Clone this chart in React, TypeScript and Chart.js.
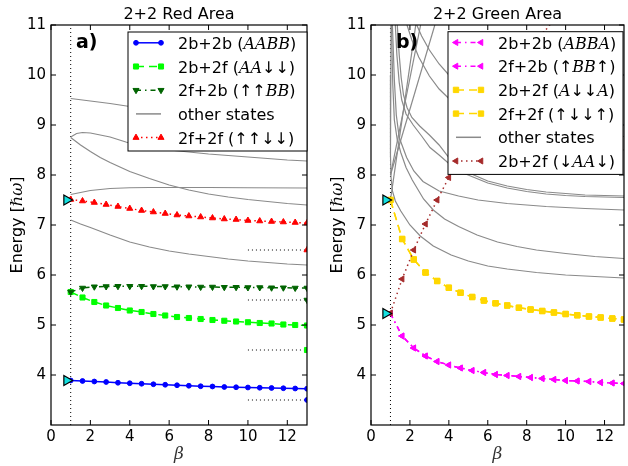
import React, { useEffect, useRef } from "react";
import { Chart, registerables } from "chart.js";

Chart.register(...registerables);

const SANS = "'DejaVu Sans', 'Liberation Sans', sans-serif";
const MATH = "'DejaVu Serif', 'Liberation Serif', serif";

// ---------------- axes ----------------
const betaRange = [0, 13];
const energyRange = [3, 11];
const xTickValues = [0, 2, 4, 6, 8, 10, 12];
const yTickValues = [4, 5, 6, 7, 8, 9, 10, 11];

// beta grid of the marked series
const betaGrid = [1.0, 1.6, 2.2, 2.8, 3.4, 4.0, 4.6, 5.2, 5.8, 6.4, 7.0, 7.6, 8.2, 8.8, 9.4, 10.0, 10.6, 11.2, 11.8, 12.4, 13.0];

// ---------------- panel a) 2+2 Red Area ----------------
const redAABB = [3.89, 3.88, 3.87, 3.86, 3.845, 3.835, 3.825, 3.815, 3.805, 3.795, 3.785, 3.775, 3.77, 3.76, 3.755, 3.75, 3.745, 3.74, 3.735, 3.73, 3.725];
const redAAdd = [5.66, 5.55, 5.46, 5.39, 5.34, 5.29, 5.26, 5.22, 5.19, 5.16, 5.14, 5.12, 5.1, 5.085, 5.07, 5.055, 5.04, 5.03, 5.01, 5.0, 4.99];
const redUUBB = [5.66, 5.74, 5.765, 5.77, 5.775, 5.775, 5.775, 5.77, 5.77, 5.765, 5.765, 5.76, 5.76, 5.755, 5.755, 5.75, 5.75, 5.745, 5.745, 5.74, 5.74];
const redUUdd = [7.51, 7.48, 7.45, 7.41, 7.37, 7.33, 7.29, 7.26, 7.23, 7.2, 7.18, 7.16, 7.14, 7.12, 7.11, 7.09, 7.08, 7.07, 7.06, 7.05, 7.04];

const redAsymptoteBeta = [10, 13];
const redAsymptoteE = [6.5, 5.5, 4.5, 3.5]; // uudd, uuBB, AAdd, AABB

const redCyanBeta = [0.8, 0.8];
const redCyanE = [7.5, 3.89];

const redOther1Beta = [1, 2, 3, 4, 5, 6, 7, 8, 9, 10, 11, 12, 13];
const redOther1E = [9.53, 9.48, 9.43, 9.37, 9.3, 9.21, 9.12, 9.03, 8.94, 8.85, 8.76, 8.68, 8.62];
const redOther2Beta = [1, 1.3, 1.6, 2, 3, 3.8, 4.8, 6, 7, 8, 9, 10, 11, 12, 13];
const redOther2E = [8.76, 8.83, 8.85, 8.84, 8.76, 8.66, 8.55, 8.5, 8.46, 8.42, 8.39, 8.36, 8.33, 8.3, 8.28];
const redOther3Beta = [1, 1.5, 2, 2.5, 3, 4, 5, 6, 8, 10, 13];
const redOther3E = [7.61, 7.65, 7.69, 7.71, 7.73, 7.745, 7.75, 7.75, 7.75, 7.745, 7.74];
const redOther4Beta = [1, 1.5, 2, 2.5, 3, 4, 5, 6, 7, 8, 9, 10, 11, 12, 13];
const redOther4E = [8.75, 8.6, 8.47, 8.35, 8.25, 8.07, 7.93, 7.8, 7.7, 7.62, 7.56, 7.51, 7.47, 7.43, 7.4];
const redOther5Beta = [1, 1.5, 2, 3, 4, 5, 6, 7, 8, 9, 10, 11, 12, 13];
const redOther5E = [7.1, 7.02, 6.95, 6.8, 6.66, 6.56, 6.48, 6.42, 6.37, 6.32, 6.28, 6.25, 6.22, 6.2];

// ---------------- panel b) 2+2 Green Area ----------------
const greenABBA = [5.23, 4.78, 4.54, 4.38, 4.27, 4.2, 4.14, 4.09, 4.05, 4.01, 3.99, 3.97, 3.95, 3.93, 3.91, 3.89, 3.88, 3.87, 3.85, 3.84, 3.83];
const greenUBBU = [5.23, 4.78, 4.54, 4.38, 4.27, 4.2, 4.14, 4.09, 4.05, 4.01, 3.99, 3.97, 3.95, 3.93, 3.91, 3.89, 3.88, 3.87, 3.85, 3.84, 3.83];
const greenAddA = [7.5, 6.72, 6.31, 6.05, 5.88, 5.745, 5.645, 5.56, 5.49, 5.435, 5.39, 5.345, 5.31, 5.28, 5.25, 5.22, 5.195, 5.17, 5.15, 5.13, 5.11];
const greenUddU = [7.5, 6.72, 6.31, 6.05, 5.88, 5.745, 5.645, 5.56, 5.49, 5.435, 5.39, 5.345, 5.31, 5.28, 5.25, 5.22, 5.195, 5.17, 5.15, 5.13, 5.11];
const greenDAADBeta = [1.0, 1.6, 2.2, 2.8, 3.4, 4.0, 4.6, 5.2, 5.8, 6.4, 7.0, 7.6, 8.2, 8.8, 9.4];
const greenDAAD = [5.24, 5.92, 6.5, 7.02, 7.5, 7.95, 8.37, 8.77, 9.15, 9.51, 9.85, 10.18, 10.5, 10.81, 11.11];

const greenCyanBeta = [0.76, 0.76];
const greenCyanE = [7.5, 5.23];

const greenOther1Beta = [2.35, 2.6, 3, 3.5, 4, 5, 6, 7, 8, 9, 10, 11, 12, 13];
const greenOther1E = [11, 10.78, 10.5, 10.22, 10.0, 9.68, 9.45, 9.27, 9.14, 9.04, 8.95, 8.88, 8.82, 8.77];
const greenOther2Beta = [1.85, 2.1, 2.45, 3, 3.5, 4, 5, 6, 7, 8, 9, 10, 11, 12, 13];
const greenOther2E = [11, 10.7, 10.36, 9.98, 9.72, 9.53, 9.24, 9.05, 8.91, 8.8, 8.71, 8.64, 8.59, 8.54, 8.5];
const greenOther3Beta = [1.35, 1.45, 1.55, 1.67, 1.85, 2.1, 2.5, 3, 3.5, 4, 4.8, 6, 7, 8, 9, 10, 11, 12, 13];
const greenOther3E = [11, 10.4, 9.95, 9.6, 9.35, 9.15, 8.98, 8.8, 8.6, 8.35, 8.08, 7.88, 7.78, 7.71, 7.66, 7.63, 7.6, 7.59, 7.58];
const greenOther4Beta = [1.25, 1.33, 1.45, 1.58, 1.8, 2.17, 2.6, 3.03, 3.5, 4, 4.8, 6, 7, 8, 9, 10, 11, 12, 13];
const greenOther4E = [11, 10.4, 9.85, 9.5, 9.22, 9.0, 8.78, 8.55, 8.4, 8.23, 8.03, 7.84, 7.74, 7.67, 7.62, 7.59, 7.57, 7.56, 7.55];
const greenOther5Beta = [1.1, 1.2, 1.3, 1.45, 1.83, 2.2, 2.67, 3.5, 4.5, 5.5, 7, 9, 11, 13];
const greenOther5E = [11, 9.9, 9.2, 8.75, 8.35, 8.08, 7.87, 7.68, 7.58, 7.5, 7.43, 7.37, 7.33, 7.3];
const greenOther6Beta = [1.05, 1.12, 1.2, 1.35, 1.53, 1.8, 2.12, 2.7, 3.2, 3.78, 4.5, 5.45, 6.5, 7.5, 8.5, 10, 11.5, 13];
const greenOther6E = [11, 9.8, 9.1, 8.7, 8.45, 8.15, 7.9, 7.52, 7.3, 7.12, 6.97, 6.8, 6.66, 6.57, 6.5, 6.43, 6.37, 6.33];
const greenOther7Beta = [1.03, 1.02, 1.0, 1.0, 1.03, 1.1, 1.25, 1.53, 2, 2.53, 3.2, 4.12, 5, 6, 7, 8.5, 10, 11.5, 13];
const greenOther7E = [11, 10, 9, 8.4, 7.95, 7.68, 7.48, 7.28, 7.0, 6.78, 6.58, 6.4, 6.28, 6.18, 6.12, 6.05, 6.0, 5.97, 5.94];
const greenRise1Beta = [1.0, 2.55];
const greenRise1E = [8.0, 11];
const greenRise2Beta = [1.0, 3.28];
const greenRise2E = [8.0, 11];
const greenRise3Beta = [1.0, 2.3];
const greenRise3E = [7.5, 11];

// ---------------- styles ----------------
type Style = { color: string; dash: number[]; point: string; rot: number; r: number };
const ST: Record<string, Style> = {
  blue: { color: "#0000ff", dash: [], point: "circle", rot: 0, r: 2.4 },
  green: { color: "#00ff00", dash: [8, 5], point: "rect", rot: 0, r: 3.6 },
  dkgreen: { color: "#006400", dash: [5, 4, 1.5, 4], point: "triangle", rot: 180, r: 3.5 },
  red: { color: "#ff0000", dash: [1.5, 3.5], point: "triangle", rot: 0, r: 3.5 },
  magenta: { color: "#ff00ff", dash: [5, 4, 1.5, 4], point: "triangle", rot: -90, r: 3.5 },
  gold: { color: "#ffd700", dash: [8, 5], point: "rect", rot: 0, r: 3.8 },
  brown: { color: "#a52a2a", dash: [1.5, 3.5], point: "triangle", rot: -90, r: 3.5 },
  gray: { color: "#8a8a8a", dash: [], point: "", rot: 0, r: 0 },
};

type Pt = { x: number; y: number };
const pts = (xs: number[], ys: number[]): Pt[] => ys.map((y, i) => ({ x: xs[i], y }));

function markedLine(data: Pt[], st: Style, order: number) {
  return {
    data, showLine: true, order, clip: 0,
    borderColor: st.color, backgroundColor: st.color, borderWidth: 1.5, borderDash: st.dash,
    pointStyle: st.point, pointRotation: st.rot, pointRadius: st.r, pointHoverRadius: st.r,
    pointBackgroundColor: st.color, pointBorderColor: st.color, pointBorderWidth: 1,
  };
}
function plainLine(data: Pt[], color: string, width: number, dash: number[], order: number) {
  return {
    data, showLine: true, order, clip: 0,
    borderColor: color, backgroundColor: color, borderWidth: width, borderDash: dash,
    pointRadius: 0, pointHoverRadius: 0,
  };
}
function markersOnly(data: Pt[], st: Style, order: number, fill = st.color, edge = st.color, edgeW = 1) {
  return {
    data, showLine: false, order, clip: 0,
    borderColor: edge, backgroundColor: fill,
    pointStyle: st.point, pointRotation: st.rot, pointRadius: st.r, pointHoverRadius: st.r,
    pointBackgroundColor: fill, pointBorderColor: edge, pointBorderWidth: edgeW,
  };
}

const CYAN: Style = { color: "#14e0e0", dash: [], point: "triangle", rot: 90, r: 5.8 };

// ---------------- drawing helpers ----------------
function drawMarker(ctx: CanvasRenderingContext2D, st: Style, x: number, y: number) {
  if (!st.point) return;
  ctx.save();
  ctx.translate(x, y);
  ctx.rotate((st.rot * Math.PI) / 180);
  ctx.beginPath();
  const r = st.r;
  if (st.point === "circle") ctx.arc(0, 0, r, 0, Math.PI * 2);
  else if (st.point === "rect") {
    const s = r * Math.SQRT1_2;
    ctx.rect(-s, -s, 2 * s, 2 * s);
  } else {
    ctx.moveTo(0, -r);
    ctx.lineTo(r * 0.866, r / 2);
    ctx.lineTo(-r * 0.866, r / 2);
    ctx.closePath();
  }
  ctx.fillStyle = st.color;
  ctx.fill();
  ctx.strokeStyle = st.color;
  ctx.lineWidth = 1;
  ctx.stroke();
  ctx.restore();
}

type Seg = [string, "n" | "i"];
type LegendItem = { segs: Seg[]; st: Style; width: number };
type Decor = {
  id: string;
  title: string;
  letter: string;
  legendLeft: number;
  legendTop: number;
  legendWidth: number;
  items: LegendItem[];
};

function drawSegs(ctx: CanvasRenderingContext2D, segs: Seg[], x: number, y: number, size = 16) {
  let cx = x;
  for (const [t, k] of segs) {
    ctx.font = k === "i" ? `italic ${size}px ${MATH}` : `${size}px ${SANS}`;
    ctx.fillText(t, cx, y);
    cx += ctx.measureText(t).width;
  }
  return cx - x;
}
function segsWidth(ctx: CanvasRenderingContext2D, segs: Seg[], size = 16) {
  let w = 0;
  for (const [t, k] of segs) {
    ctx.font = k === "i" ? `italic ${size}px ${MATH}` : `${size}px ${SANS}`;
    w += ctx.measureText(t).width;
  }
  return w;
}

function decorPlugin(d: Decor) {
  return {
    id: "decor" + d.id,
    afterDraw(chart: any) {
      const ctx: CanvasRenderingContext2D = chart.ctx;
      const ca = chart.chartArea;
      const xs = chart.scales.x;
      const ys = chart.scales.y;
      ctx.save();
      ctx.setLineDash([]);
      // spines
      ctx.strokeStyle = "#000";
      ctx.lineWidth = 1.2;
      ctx.strokeRect(ca.left, ca.top, ca.right - ca.left, ca.bottom - ca.top);
      // inward ticks
      ctx.lineWidth = 1;
      ctx.beginPath();
      for (const v of xTickValues) {
        const px = xs.getPixelForValue(v);
        ctx.moveTo(px, ca.bottom);
        ctx.lineTo(px, ca.bottom - 5);
        ctx.moveTo(px, ca.top);
        ctx.lineTo(px, ca.top + 5);
      }
      for (const v of yTickValues) {
        const py = ys.getPixelForValue(v);
        ctx.moveTo(ca.left, py);
        ctx.lineTo(ca.left + 5, py);
        ctx.moveTo(ca.right, py);
        ctx.lineTo(ca.right - 5, py);
      }
      ctx.stroke();

      const cx = (xs.getPixelForValue(betaRange[0]) + xs.getPixelForValue(betaRange[1])) / 2;
      const cy = (ca.top + ca.bottom) / 2;
      ctx.fillStyle = "#000";
      ctx.textAlign = "center";
      ctx.textBaseline = "alphabetic";
      // title
      ctx.font = `16px ${SANS}`;
      ctx.fillText(d.title, cx, 19);
      // x label
      ctx.font = `italic 17px ${MATH}`;
      ctx.fillStyle = "#333";
      ctx.fillText("β", cx, 459);
      ctx.fillStyle = "#000";
      // y label
      ctx.save();
      ctx.translate(ca.left - 29, cy);
      ctx.rotate(-Math.PI / 2);
      ctx.textAlign = "left";
      const ySegs: Seg[] = [["Energy [", "n"], ["ℏω", "i"], ["]", "n"]];
      const w = segsWidth(ctx, ySegs);
      drawSegs(ctx, ySegs, -w / 2, 0);
      ctx.restore();

      // legend
      ctx.textAlign = "left";
      const rowStep = 23.7;
      const lh = d.items.length * rowStep + 0.5;
      ctx.fillStyle = "#fff";
      ctx.fillRect(d.legendLeft, d.legendTop, d.legendWidth, lh);
      ctx.strokeStyle = "#000";
      ctx.lineWidth = 1;
      ctx.strokeRect(d.legendLeft, d.legendTop, d.legendWidth, lh);
      d.items.forEach((it, i) => {
        const ry = d.legendTop + 10.8 + i * rowStep;
        const x1 = d.legendLeft + 8;
        const x2 = d.legendLeft + 33;
        ctx.beginPath();
        ctx.setLineDash(it.st.dash);
        ctx.strokeStyle = it.st.color;
        ctx.lineWidth = it.width;
        ctx.moveTo(x1, ry);
        ctx.lineTo(x2, ry);
        ctx.stroke();
        ctx.setLineDash([]);
        drawMarker(ctx, it.st, x1, ry);
        drawMarker(ctx, it.st, x2, ry);
        ctx.fillStyle = "#000";
        drawSegs(ctx, it.segs, d.legendLeft + 50, ry + 6);
      });

      // panel letter
      ctx.font = `bold 19px ${SANS}`;
      ctx.fillStyle = "#000";
      ctx.fillText(d.letter, ca.left + 25, 48);
      ctx.restore();
    },
  };
}

function makeConfig(datasets: any[], leftWidth: number, rightPad: number, decor: Decor) {
  return {
    type: "scatter" as const,
    data: { datasets },
    options: {
      animation: false as const,
      responsive: false,
      maintainAspectRatio: false,
      events: [] as any[],
      layout: { padding: { top: 25, right: rightPad, left: 0, bottom: 0 } },
      plugins: { legend: { display: false }, tooltip: { enabled: false }, title: { display: false } },
      scales: {
        x: {
          type: "linear" as const,
          min: betaRange[0],
          max: betaRange[1],
          grid: { display: false, drawTicks: false },
          border: { display: false },
          ticks: { color: "#000", font: { family: SANS, size: 15 }, padding: 3, maxRotation: 0, autoSkip: false },
          afterBuildTicks: (s: any) => { s.ticks = xTickValues.map((v) => ({ value: v })); },
          afterFit: (s: any) => { s.height = 41; },
        },
        y: {
          type: "linear" as const,
          min: energyRange[0],
          max: energyRange[1],
          grid: { display: false, drawTicks: false },
          border: { display: false },
          ticks: { color: "#000", font: { family: SANS, size: 15 }, padding: 5, autoSkip: false },
          afterBuildTicks: (s: any) => { s.ticks = yTickValues.map((v) => ({ value: v })); },
          afterFit: (s: any) => { s.width = leftWidth; },
        },
      },
    },
    plugins: [decorPlugin(decor)],
  };
}

function redDatasets() {
  const asymSt = [ST.red, ST.dkgreen, ST.green, ST.blue];
  const ds: any[] = [
    markersOnly(pts(redCyanBeta, redCyanE), CYAN, 0, CYAN.color, "#000", 1.2),
    markedLine(pts(betaGrid, redUUBB), ST.dkgreen, 1),
    markedLine(pts(betaGrid, redAAdd), ST.green, 2),
    markedLine(pts(betaGrid, redUUdd), ST.red, 3),
    markedLine(pts(betaGrid, redAABB), ST.blue, 4),
  ];
  redAsymptoteE.forEach((e, i) => {
    ds.push(markersOnly([{ x: redAsymptoteBeta[1], y: e }], asymSt[i], 5));
    ds.push(plainLine(pts(redAsymptoteBeta, redAsymptoteBeta.map(() => e)), "#000", 1, [1, 3], 6));
  });
  const others = [
    [redOther1Beta, redOther1E], [redOther2Beta, redOther2E], [redOther3Beta, redOther3E],
    [redOther4Beta, redOther4E], [redOther5Beta, redOther5E],
  ];
  others.forEach(([b, e]) => ds.push(plainLine(pts(b, e), ST.gray.color, 1.2, [], 7)));
  ds.push(plainLine(pts([1, 1], energyRange), "#000", 1, [1, 3], 8));
  return ds;
}

function greenDatasets() {
  const ds: any[] = [
    markersOnly(pts(greenCyanBeta, greenCyanE), CYAN, 0, CYAN.color, "#000", 1.2),
    markedLine(pts(greenDAADBeta, greenDAAD), ST.brown, 1),
    markedLine(pts(betaGrid, greenABBA), ST.magenta, 2),
    markedLine(pts(betaGrid, greenUBBU), ST.magenta, 3),
    markedLine(pts(betaGrid, greenAddA), ST.gold, 4),
    markedLine(pts(betaGrid, greenUddU), ST.gold, 5),
  ];
  const others = [
    [greenOther1Beta, greenOther1E], [greenOther2Beta, greenOther2E], [greenOther3Beta, greenOther3E],
    [greenOther4Beta, greenOther4E], [greenOther5Beta, greenOther5E], [greenOther6Beta, greenOther6E],
    [greenOther7Beta, greenOther7E], [greenRise1Beta, greenRise1E], [greenRise2Beta, greenRise2E],
    [greenRise3Beta, greenRise3E],
  ];
  others.forEach(([b, e]) => ds.push(plainLine(pts(b, e), ST.gray.color, 1.2, [], 7)));
  ds.push(plainLine(pts([1, 1], energyRange), "#000", 1, [1, 3], 8));
  return ds;
}

const redDecor: Decor = {
  id: "a",
  title: "2+2 Red Area",
  letter: "a)",
  legendLeft: 128,
  legendTop: 32,
  legendWidth: 179,
  items: [
    { segs: [["2b+2b (", "n"], ["AABB", "i"], [")", "n"]], st: ST.blue, width: 1.5 },
    { segs: [["2b+2f (", "n"], ["AA", "i"], ["↓↓", "n"], [")", "n"]], st: ST.green, width: 1.5 },
    { segs: [["2f+2b (", "n"], ["↑↑", "n"], ["BB", "i"], [")", "n"]], st: ST.dkgreen, width: 1.5 },
    { segs: [["other states", "n"]], st: ST.gray, width: 1.5 },
    { segs: [["2f+2f (", "n"], ["↑↑↓↓", "n"], [")", "n"]], st: ST.red, width: 1.5 },
  ],
};

const greenDecor: Decor = {
  id: "b",
  title: "2+2 Green Area",
  letter: "b)",
  legendLeft: 134,
  legendTop: 31.7,
  legendWidth: 175,
  items: [
    { segs: [["2b+2b (", "n"], ["ABBA", "i"], [")", "n"]], st: ST.magenta, width: 1.5 },
    { segs: [["2f+2b (", "n"], ["↑", "n"], ["BB", "i"], ["↑", "n"], [")", "n"]], st: ST.magenta, width: 1.5 },
    { segs: [["2b+2f (", "n"], ["A", "i"], ["↓↓", "n"], ["A", "i"], [")", "n"]], st: ST.gold, width: 1.5 },
    { segs: [["2f+2f (", "n"], ["↑↓↓↑", "n"], [")", "n"]], st: ST.gold, width: 1.5 },
    { segs: [["other states", "n"]], st: ST.gray, width: 1.5 },
    { segs: [["2b+2f (", "n"], ["↓", "n"], ["AA", "i"], ["↓", "n"], [")", "n"]], st: ST.brown, width: 1.5 },
  ],
};

export default function App() {
  const refA = useRef<HTMLCanvasElement>(null);
  const refB = useRef<HTMLCanvasElement>(null);
  useEffect(() => {
    const a = new Chart(refA.current as HTMLCanvasElement, makeConfig(redDatasets(), 51, 3, redDecor) as any);
    const b = new Chart(refB.current as HTMLCanvasElement, makeConfig(greenDatasets(), 57, 0, greenDecor) as any);
    return () => {
      a.destroy();
      b.destroy();
    };
  }, []);
  return (
    <div style={{ position: "fixed", left: 0, top: 0, width: 628, height: 466, overflow: "hidden", background: "#fff" }}>
      <canvas ref={refA} width={314} height={466} style={{ position: "absolute", left: 0, top: 0 }} />
      <canvas ref={refB} width={317} height={466} style={{ position: "absolute", left: 314, top: 0 }} />
    </div>
  );
}
